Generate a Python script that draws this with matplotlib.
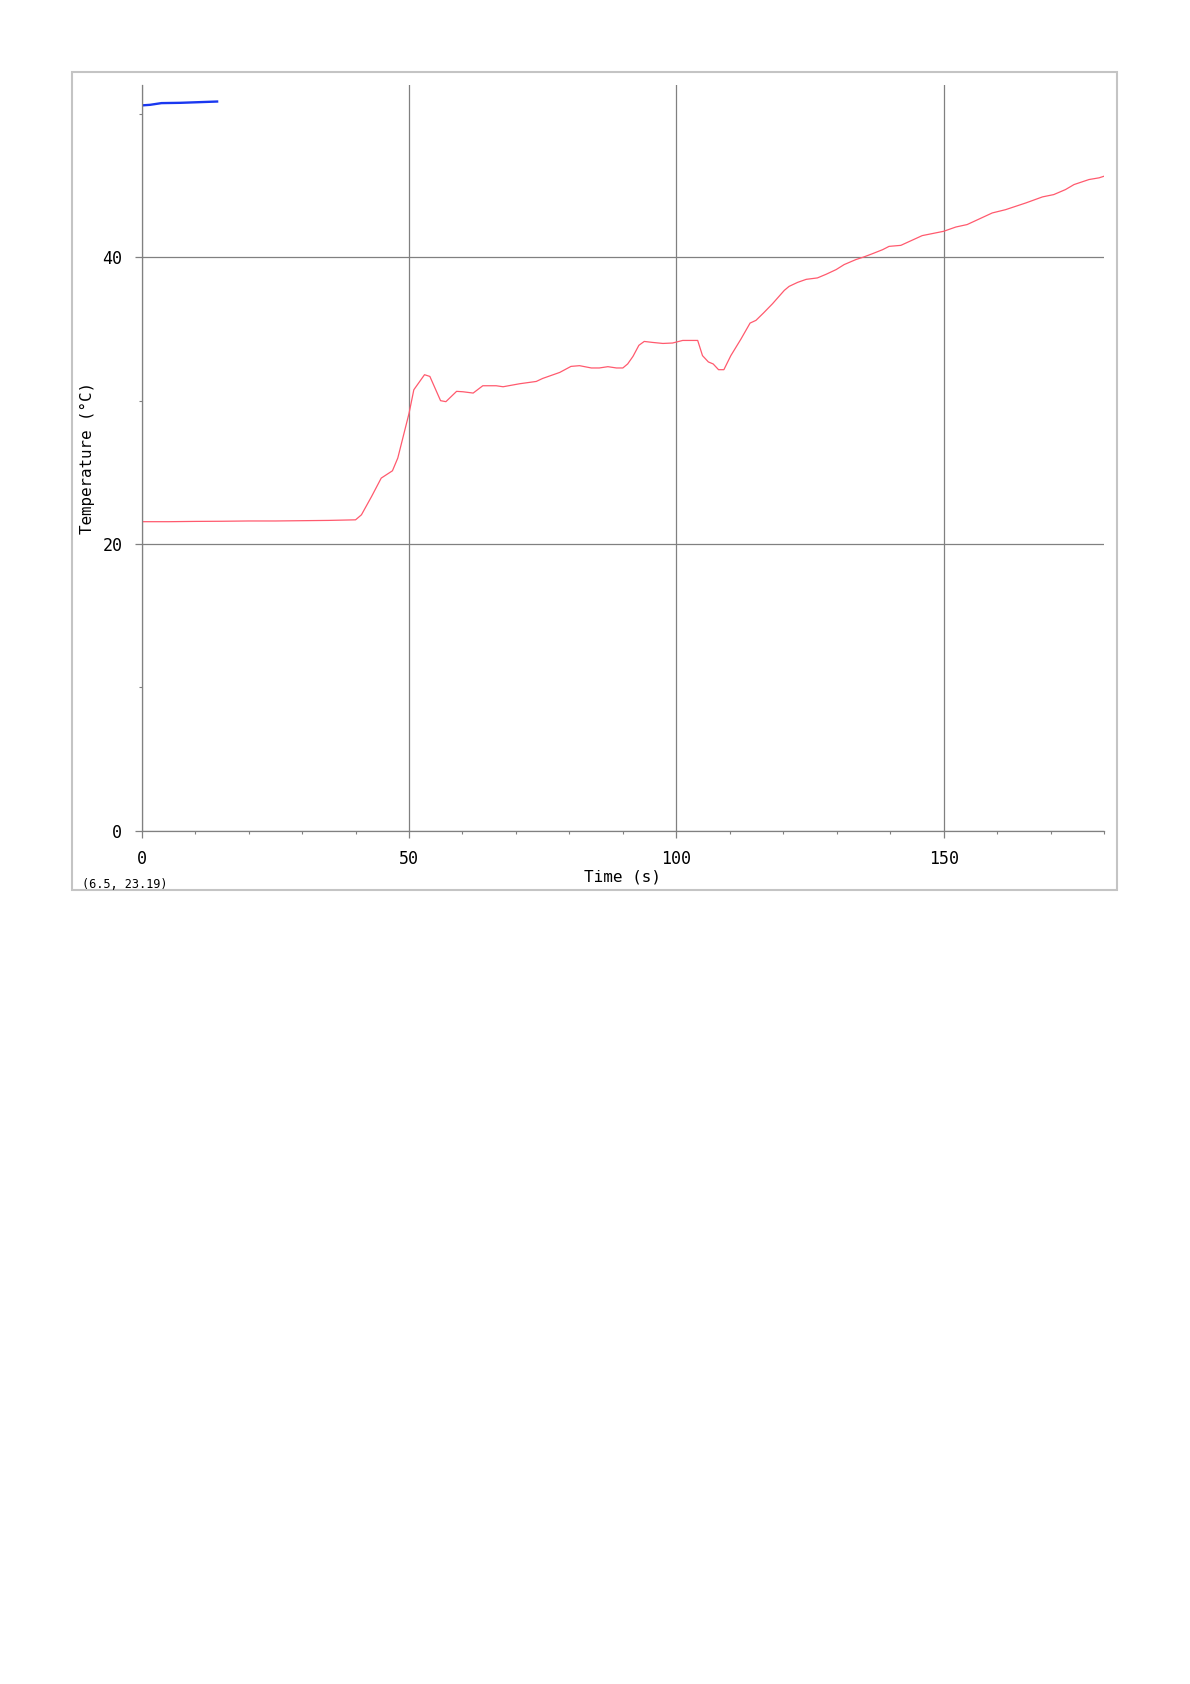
import matplotlib.pyplot as plt
from matplotlib.patches import Rectangle
from matplotlib.ticker import MultipleLocator

# red trace: temperature probe
time_s = [0, 5, 10, 15, 20, 25, 30, 35, 40, 41.1, 43.0, 44.8, 46.9, 47.9, 50.0,
          50.9, 52.9, 53.9, 55.9, 56.9, 58.9, 60.1, 62.0, 63.8, 66.3, 67.6, 70.7,
          73.8, 75.0, 78.2, 80.3, 81.9, 84.1, 85.6, 87.2, 88.8, 90.0, 90.9, 91.9,
          93.0, 94.0, 95.6, 97.5, 99.3, 101.2, 104.0, 104.9, 106.0, 106.9, 107.9,
          108.9, 110.2, 112.1, 113.8, 114.9, 116.3, 118.0, 120.2, 121.1, 122.7,
          124.3, 126.4, 128.0, 129.9, 131.4, 133.6, 135.0, 136.7, 138.6, 139.8,
          142.0, 146.0, 150.0, 152.3, 154.4, 159.1, 161.6, 165.4, 168.5, 170.6,
          172.8, 174.4, 177.2, 179.1, 180]
temp_c = [21.55, 21.55, 21.57, 21.58, 21.6, 21.6, 21.62, 21.64, 21.68, 22.03,
          23.31, 24.59, 25.1, 25.99, 29.1, 30.75, 31.8, 31.68, 29.99, 29.92,
          30.64, 30.61, 30.52, 31.03, 31.03, 30.96, 31.17, 31.33, 31.54, 31.96,
          32.38, 32.43, 32.27, 32.27, 32.36, 32.27, 32.27, 32.55, 33.08, 33.85,
          34.12, 34.05, 33.98, 34.01, 34.19, 34.19, 33.13, 32.69, 32.55, 32.15,
          32.15, 33.13, 34.29, 35.4, 35.59, 36.1, 36.75, 37.68, 37.96, 38.24,
          38.45, 38.55, 38.8, 39.13, 39.48, 39.83, 40.0, 40.24, 40.52, 40.75,
          40.82, 41.5, 41.8, 42.1, 42.27, 43.08, 43.31, 43.78, 44.2, 44.36,
          44.71, 45.06, 45.41, 45.53, 45.64]

# blue trace
blue_time = [0, 1.55, 3.7, 7.2, 10.3, 14.1]
blue_temp = [50.58, 50.62, 50.74, 50.76, 50.8, 50.85]

x_ticks = [0, 50, 100, 150]
y_ticks = [0, 20, 40]
cursor_text = "(6.5, 23.19)"

mono = "DejaVu Sans Mono"
grey = "#808080"

fig = plt.figure(figsize=(11.9, 16.84), dpi=100)

# light frame around the plot
fig.patches.append(Rectangle((0.0609, 0.4715), 0.8778, 0.4855,
                             transform=fig.transFigure, fill=False,
                             edgecolor="#c4c4c4", linewidth=1.5))

ax = fig.add_axes([0.1191, 0.5067, 0.8086, 0.4428])

ax.plot(time_s, temp_c, color="#ff5a6e", linewidth=0.9)
ax.plot(blue_time, blue_temp, color="#1a38f0", linewidth=1.7)

ax.set_xlim(0, 180)
ax.set_ylim(0, 52)

ax.set_xticks(x_ticks)
ax.set_yticks(y_ticks)
ax.xaxis.set_minor_locator(MultipleLocator(10))
ax.yaxis.set_minor_locator(MultipleLocator(10))

ax.grid(True, which="major", color=grey, linewidth=0.9)

for side in ["top", "right"]:
    ax.spines[side].set_visible(False)
for side in ["left", "bottom"]:
    ax.spines[side].set_color(grey)
    ax.spines[side].set_linewidth(0.9)

ax.tick_params(which="major", length=5, width=0.9, color=grey,
               labelsize=12, pad=9)
ax.tick_params(which="minor", length=2.5, width=0.8, color=grey)
for lbl in ax.get_xticklabels() + ax.get_yticklabels():
    lbl.set_family(mono)

ax.set_xlabel("Time (s)", fontsize=11.5, family=mono, labelpad=1)
ax.set_ylabel("Temperature (°C)", fontsize=11.4, family=mono, labelpad=5)

fig.text(82 / 1190, 1 - 884 / 1684, cursor_text, fontsize=8.6, family=mono,
         ha="left", va="center")

fig.savefig("out.png", dpi=100)
